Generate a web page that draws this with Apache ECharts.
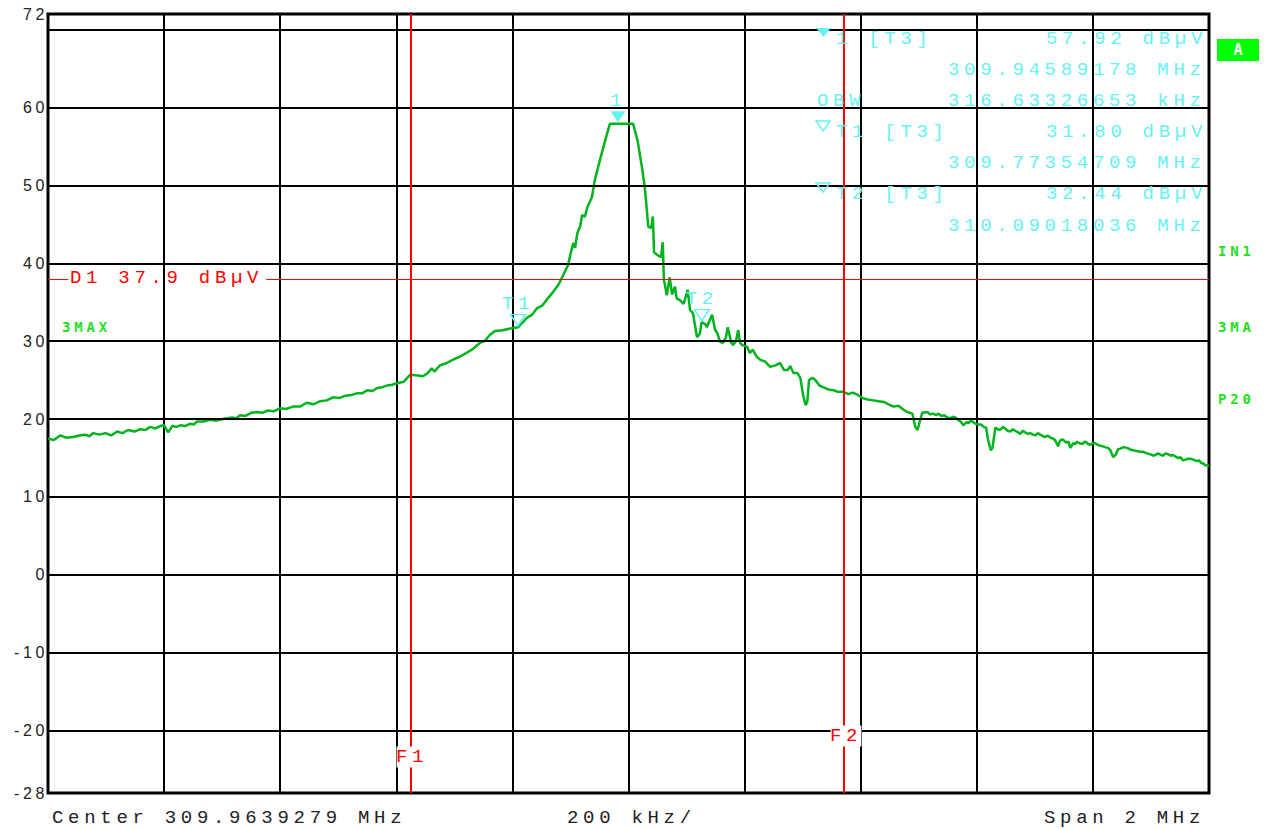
<!DOCTYPE html>
<html><head><meta charset="utf-8">
<script src="https://cdn.jsdelivr.net/npm/echarts@6/dist/echarts.min.js"></script>
<style>
html,body{margin:0;padding:0;background:#fff;}
#chart{width:1272px;height:829px;}
#chart text[style*="Liberation Mono"]{letter-spacing:4.7px;}
#chart text[style*="Liberation Sans"]{letter-spacing:3.6px;}
#chart text[style*="DejaVu Sans Mono"]{letter-spacing:3.8px;}
</style></head><body><div id="chart"></div>
<script>
// Trace: [frequency offset from centre (kHz), level (dBµV)]
const tracePoints = [
[-1000,17.5],[-990,17.3],[-979,17.9],[-968,17.6],[-957,17.7],[-946,17.9],[-936,18.0],[-929,17.8],[-922,18.2],[-912,18.0],
[-901,18.2],[-891,17.9],[-881,18.4],[-872,18.2],[-862,18.6],[-851,18.4],[-841,18.7],[-832,18.6],[-824,19.0],[-815,18.8],
[-807,19.1],[-800,19.2],[-793,18.3],[-786,19.1],[-779,19.0],[-772,19.2],[-764,19.1],[-755,19.4],[-749,19.3],[-743,19.7],
[-732,19.7],[-721,19.9],[-710,19.8],[-699,20.0],[-691,20.1],[-683,20.2],[-676,20.1],[-669,20.5],[-660,20.4],[-650,20.8],
[-640,20.9],[-631,20.8],[-621,21.1],[-611,21.0],[-600,21.4],[-590,21.3],[-578,21.6],[-566,21.6],[-554,22.1],[-543,21.9],
[-531,22.3],[-520,22.4],[-509,22.8],[-498,22.7],[-488,23.0],[-478,23.1],[-468,23.3],[-459,23.3],[-450,23.7],[-441,23.6],
[-433,24.0],[-424,24.1],[-416,24.3],[-407,24.4],[-399,24.6],[-387,24.8],[-376,25.7],[-363,25.6],[-354,25.5],[-346,25.9],
[-339,26.5],[-334,26.1],[-325,26.9],[-313,27.2],[-303,27.6],[-291,28.0],[-279,28.5],[-268,29.0],[-256,29.8],[-248,30.0],
[-239,30.8],[-230,31.3],[-217,31.4],[-199,31.7],[-190,31.8],[-184,32.3],[-175,33.0],[-166,33.4],[-158,34.2],[-148,34.6],
[-139,35.5],[-130,36.3],[-121,37.2],[-113,38.4],[-104,39.8],[-99,41.5],[-95,42.6],[-92,42.0],[-88,43.9],[-83,44.8],
[-80,46.2],[-75,46.0],[-71,47.2],[-66,48.0],[-63,48.5],[-58,50.7],[-49,53.3],[-40,55.8],[-32,57.92],[-18,57.92],
[-11,57.92],[0,57.92],[8,57.9],[13,56.5],[16,55.6],[23,52.4],[28,49.8],[32,46.5],[34,44.7],[39,44.5],
[42,46.0],[44,41.4],[51,41.0],[56,40.8],[59,42.7],[61,37.9],[66,35.9],[71,38.2],[75,36.0],[80,37.0],
[83,35.5],[88,35.3],[95,34.8],[102,36.6],[106,34.0],[111,33.6],[118,30.5],[123,31.0],[126,32.44],[132,32.2],
[135,31.8],[140,32.7],[144,33.4],[149,31.5],[153,31.0],[158,29.9],[163,29.8],[168,30.5],[171,31.8],[177,29.8],
[180,29.5],[185,30.0],[189,31.4],[192,29.8],[196,29.5],[204,29.3],[209,28.5],[214,28.9],[221,28.0],[227,27.6],
[235,27.4],[244,26.7],[253,26.9],[261,27.2],[268,26.3],[274,26.3],[279,26.8],[284,25.9],[291,25.9],[296,25.3],
[301,23.0],[305,21.8],[308,22.2],[311,25.0],[317,25.3],[322,25.0],[329,24.3],[335,24.1],[344,23.8],[353,23.7],
[361,23.5],[370,23.5],[379,23.2],[386,23.4],[395,23.1],[403,22.7],[412,22.5],[422,22.4],[431,22.3],[440,22.2],
[448,21.9],[457,21.6],[465,21.7],[474,21.2],[480,20.9],[489,20.7],[494,19.0],[498,18.6],[501,19.5],[506,20.8],
[515,20.9],[520,20.6],[525,20.7],[530,20.5],[534,20.7],[539,20.4],[544,20.5],[549,20.2],[554,20.1],[559,20.3],
[563,20.2],[568,19.9],[572,19.7],[577,19.2],[582,19.6],[586,19.5],[590,19.8],[594,19.6],[598,19.4],[603,19.3],
[607,19.3],[612,19.0],[616,18.9],[619,17.5],[624,16.0],[627,16.3],[632,18.9],[636,18.7],[640,18.6],[645,19.0],
[649,18.8],[653,18.5],[658,18.4],[662,18.7],[666,18.5],[671,18.3],[675,18.1],[679,18.5],[683,18.3],[688,18.1],
[692,18.2],[697,18.0],[701,17.9],[705,18.2],[709,18.0],[714,17.8],[718,17.7],[722,17.9],[727,17.6],[731,17.5],
[735,17.3],[740,16.5],[743,17.2],[747,17.4],[751,17.2],[754,17.0],[758,17.1],[761,16.3],[766,16.9],[769,16.8],
[773,17.1],[777,16.9],[782,16.8],[786,17.1],[789,17.0],[792,16.8],[795,16.7],[800,16.9],[804,16.9],[808,16.7],
[812,16.6],[817,16.5],[821,16.4],[826,16.3],[830,16.0],[835,15.1],[840,15.5],[843,16.1],[847,16.2],[853,16.4],
[859,16.3],[864,16.1],[869,16.0],[875,15.9],[881,15.8],[887,15.8],[893,15.6],[898,15.5],[904,15.3],[908,15.4],
[912,15.6],[917,15.4],[921,15.3],[925,15.6],[929,15.5],[934,15.3],[938,15.4],[942,15.2],[947,15.0],[951,15.1],
[955,14.7],[960,14.8],[964,14.9],[968,14.9],[973,14.8],[979,14.6],[983,14.7],[986,14.4],[990,14.3],[993,14.1],
[1000,14.0]
];
const yTickLabels = [72,60,50,40,30,20,10,0,-10,-20,-28];
const gridLevels = [70,60,50,40,30,20,10,0,-10,-20];
const markerNames = ['1','T1','T2'];
const markerFreq = [-18.04,-190.38,126.25];
const markerLevel = [57.92,31.80,32.44];
const freqLineNames = ['F1','F2'];
const freqLines = [-375,371];
const displayLine = 37.9;
const markerInfo = [
  ['1 [T3]','57.92 dBµV'],
  ['','309.94589178 MHz'],
  ['OBW','316.63326653 kHz'],
  ['T1 [T3]','31.80 dBµV'],
  ['','309.77354709 MHz'],
  ['T2 [T3]','32.44 dBµV'],
  ['','310.09018036 MHz']
];
const bottomTexts = ['Center 309.9639279 MHz','200 kHz/','Span 2 MHz'];
const sideTexts = ['IN1','3MA','P20'];

const CYAN = '#66f2f2', GREEN = '#00b41e', LGREEN = '#22e022', RED = '#ff0000';
const MONO = 'Liberation Mono', SMALL = 'DejaVu Sans Mono';

const chart = echarts.init(document.getElementById('chart'), null, {renderer:'svg'});

function txt(text, x, y, color, opt) {
  opt = opt || {};
  return {type:'text', z:100, silent:true, x:x, y:y, style:Object.assign({
    text:text, fill:color, fontFamily:opt.family || MONO, fontSize:opt.size || 19,
    fontWeight:opt.weight || 'normal', align:opt.align || 'left', verticalAlign:'middle'
  }, opt.extra || {})};
}

const graphics = [];
const rowY = [39,70,101,132,163,194,226];
markerInfo.forEach((r,i) => {
  if (r[0]) graphics.push(txt(r[0], r[0]==='OBW' ? 817 : 836, rowY[i], CYAN));
  const isLevel = r[1].indexOf('dB') >= 0;
  graphics.push(txt(r[1], isLevel ? 1046 : 948, rowY[i], CYAN));
});
graphics.push({type:'polygon', z:100, shape:{points:[[816,28],[831,28],[823.5,37]]}, style:{fill:CYAN}});
graphics.push({type:'polygon', z:100, shape:{points:[[816,121],[830,121],[823,131]]}, style:{fill:'none', stroke:CYAN, lineWidth:1.5}});
graphics.push({type:'polygon', z:100, shape:{points:[[816,183],[830,183],[823,192]]}, style:{fill:'none', stroke:CYAN, lineWidth:1.5}});
graphics.push(txt(bottomTexts[0], 52, 818, '#222'));
graphics.push(txt(bottomTexts[1], 567, 818, '#222'));
graphics.push(txt(bottomTexts[2], 1044, 818, '#222'));
graphics.push(txt('D1 ' + displayLine + ' dBµV', 70, 278, RED));
graphics.push(txt(freqLineNames[0], 412, 757, RED, {align:'center', extra:{backgroundColor:'#fff', padding:[1,4]}}));
graphics.push(txt(freqLineNames[1], 846, 736, RED, {align:'center', extra:{backgroundColor:'#fff', padding:[1,4]}}));
graphics.push(txt('3MAX', 62, 327, LGREEN, {family:SMALL, size:14, weight:'bold'}));
const sideY = [251,327,399];
sideTexts.forEach((s,i) => graphics.push(txt(s, 1218, sideY[i], LGREEN, {family:SMALL, size:14, weight:'bold'})));
graphics.push({type:'rect', z:100, shape:{x:1217,y:39,width:42,height:22}, style:{fill:'#00ff00'}});
graphics.push(txt('A', 1240, 50, '#fff', {family:SMALL, size:15, weight:'bold', align:'center'}));

const gapLeft = -965, gapRight = -624;

chart.setOption({
  animation:false,
  backgroundColor:'#fff',
  grid:{left:48, right:63, top:14, bottom:36, show:true, borderColor:'#000', borderWidth:3, backgroundColor:'transparent'},
  xAxis:{type:'value', min:-1000, max:1000, interval:200,
    axisLabel:{show:false}, axisTick:{show:false}, axisLine:{show:false},
    splitLine:{show:true, lineStyle:{color:'#000', width:2}}},
  yAxis:{type:'value', min:-28, max:72,
    axisLabel:{customValues:yTickLabels, color:'#222', fontFamily:'Liberation Sans', fontSize:16, margin:0},
    axisTick:{show:false}, axisLine:{show:false}, splitLine:{show:false}},
  graphic:graphics,
  series:[
    {type:'line', z:1, data:[], silent:true,
     markLine:{silent:true, symbol:'none', label:{show:false},
       lineStyle:{color:'#000', width:2, type:'solid'},
       data:gridLevels.map(v => ({yAxis:v}))}},
    {type:'line', z:2, data:tracePoints, showSymbol:false, symbol:'none',
     lineStyle:{color:GREEN, width:2.5}, itemStyle:{color:GREEN}},
    {type:'line', z:3, data:[], silent:true,
     markLine:{silent:true, symbol:'none', label:{show:false},
       lineStyle:{color:RED, width:2, type:'solid'},
       data:freqLines.map(v => ({xAxis:v}))}},
    {type:'line', z:3, data:[], silent:true,
     markLine:{silent:true, symbol:'none', label:{show:false},
       lineStyle:{color:RED, width:1, type:'solid'},
       data:[[{coord:[-1000,displayLine]},{coord:[gapLeft,displayLine]}],
             [{coord:[gapRight,displayLine]},{coord:[1000,displayLine]}]]}},
    {type:'line', z:4, data:[], silent:true,
     markPoint:{silent:true,
       data:markerNames.map((n,i) => ({
         name:n, coord:[markerFreq[i], markerLevel[i]],
         symbol:'triangle', symbolRotate:180, symbolSize:[15,11], symbolOffset:[0,-7],
         itemStyle: i===0 ? {color:CYAN} : {color:'rgba(255,255,255,0)', borderColor:CYAN, borderWidth:1.5},
         label:{show:true, position:'top', distance:1, formatter:n, color:CYAN, fontFamily:MONO, fontSize:19}
       }))}}
  ]
});
</script></body></html>
